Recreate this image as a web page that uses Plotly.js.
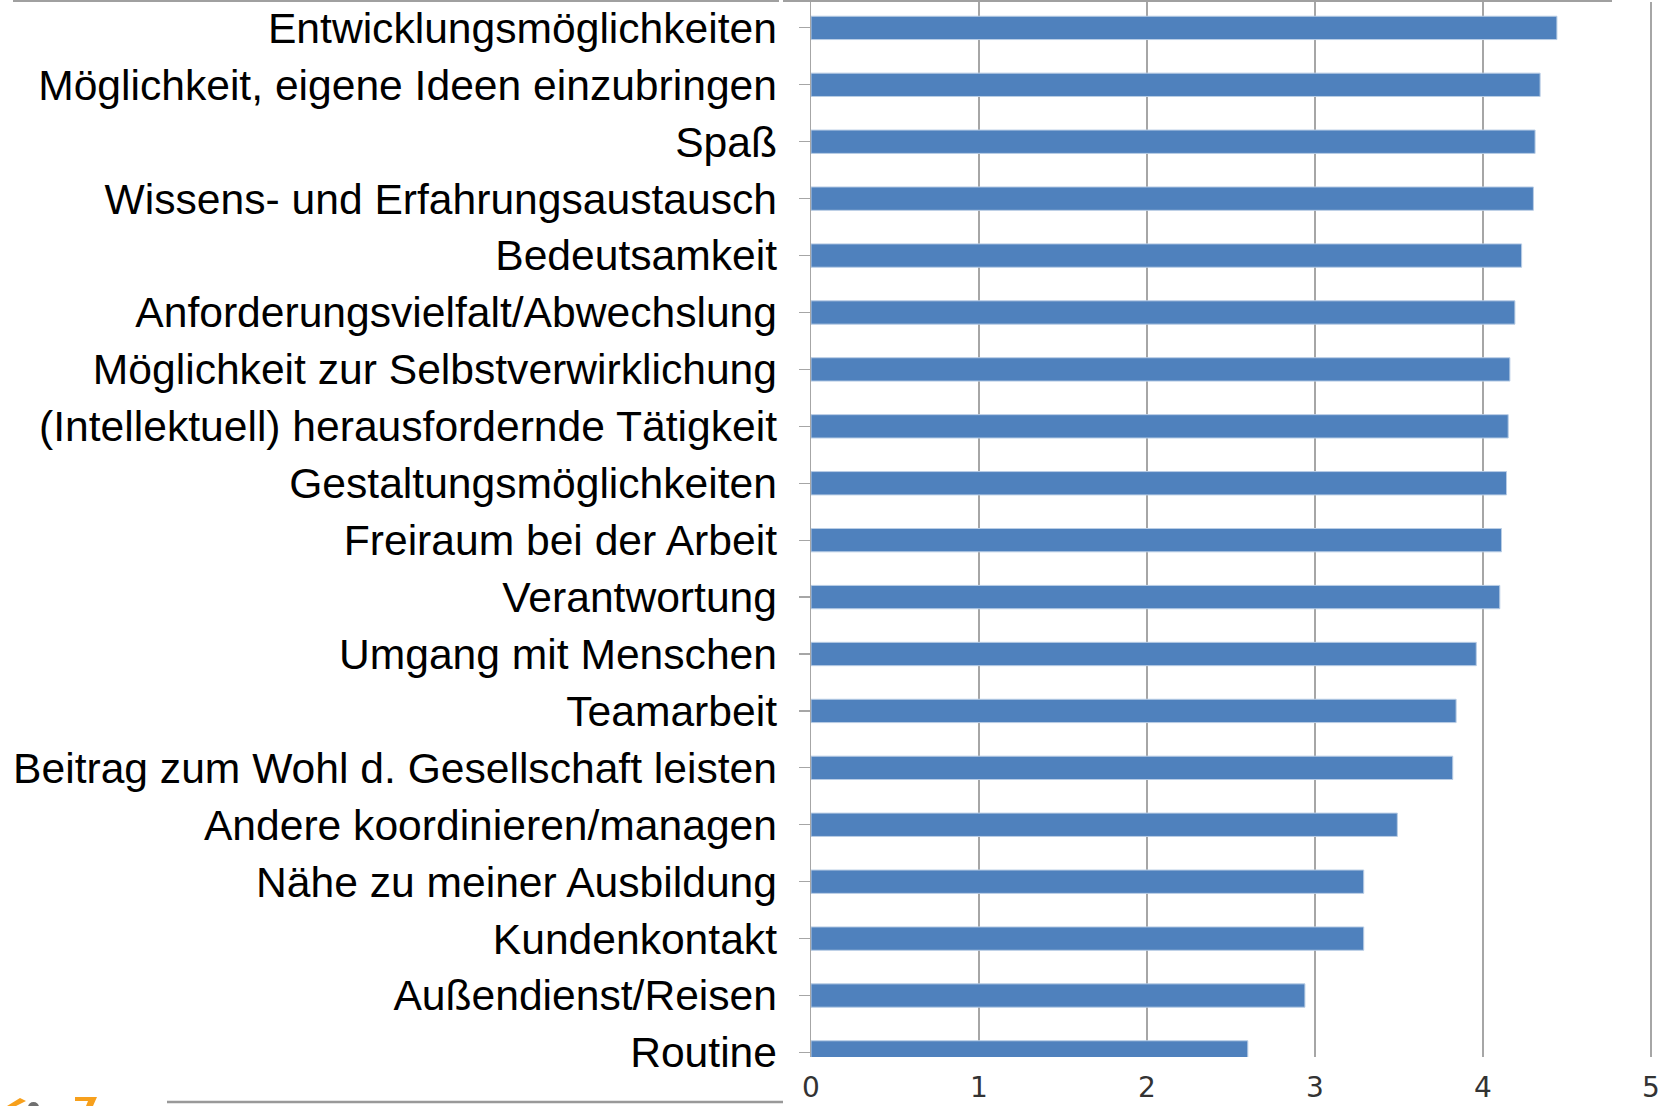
<!DOCTYPE html>
<html>
<head>
<meta charset="utf-8">
<script src="https://cdn.plot.ly/plotly-3.0.1.min.js"></script>
<style>
  html, body { margin: 0; padding: 0; background: #ffffff; }
  #chart { width: 1674px; height: 1106px; }
</style>
</head>
<body>
<div id="chart"></div>
<script>
const categories = [
  "Entwicklungsmöglichkeiten",
  "Möglichkeit, eigene Ideen einzubringen",
  "Spaß",
  "Wissens- und Erfahrungsaustausch",
  "Bedeutsamkeit",
  "Anforderungsvielfalt/Abwechslung",
  "Möglichkeit zur Selbstverwirklichung",
  "(Intellektuell) herausfordernde Tätigkeit",
  "Gestaltungsmöglichkeiten",
  "Freiraum bei der Arbeit",
  "Verantwortung",
  "Umgang mit Menschen",
  "Teamarbeit",
  "Beitrag zum Wohl d. Gesellschaft leisten",
  "Andere koordinieren/managen",
  "Nähe zu meiner Ausbildung",
  "Kundenkontakt",
  "Außendienst/Reisen",
  "Routine"
];
const values = [4.44, 4.34, 4.31, 4.30, 4.23, 4.19, 4.16, 4.15, 4.14, 4.11, 4.10, 3.96, 3.84, 3.82, 3.49, 3.29, 3.29, 2.94, 2.60];
const xTickVals = [0, 1, 2, 3, 4, 5];
const xTickText = ["0", "1", "2", "3", "4", "5"];

// plot area in pixels (for decorative page shapes)
const L = 811, R = 1651, T = 0, B = 1057;
const px = v => (v - L) / (R - L);
const py = v => (B - v) / (B - T);

const trace = {
  type: 'bar',
  orientation: 'h',
  y: categories,
  x: values,
  marker: { color: '#4f81bd', line: { color: '#b9cde5', width: 1 } },
  hoverinfo: 'x+y'
};

const grey = '#a6a6a6';
const layout = {
  width: 1674,
  height: 1106,
  margin: { l: L, r: 1674 - R, t: T, b: 1106 - B, pad: 0 },
  paper_bgcolor: '#ffffff',
  plot_bgcolor: '#ffffff',
  showlegend: false,
  bargap: 0.59,
  xaxis: {
    range: [0, 5],
    tickvals: xTickVals,
    ticktext: xTickText,
    showgrid: true,
    gridcolor: grey,
    gridwidth: 1.4,
    zeroline: false,
    showline: false,
    ticks: '',
    ticklabelstandoff: 11,
    tickfont: { family: 'Verdana, "DejaVu Sans", sans-serif', size: 28, color: '#333333' },
    fixedrange: true
  },
  yaxis: {
    type: 'category',
    range: [18.08, -0.49],
    showgrid: false,
    zeroline: false,
    showline: true,
    linecolor: grey,
    linewidth: 1.5,
    ticks: 'outside',
    ticklen: 11,
    tickwidth: 1.2,
    tickcolor: grey,
    ticklabelstandoff: 13,
    tickfont: { family: 'Arial, "Liberation Sans", sans-serif', size: 42.6, color: '#000000' },
    fixedrange: true
  },
  shapes: [
    // top page border line
    { type: 'line', xref: 'paper', yref: 'paper', x0: px(13), x1: px(779), y0: py(1), y1: py(1), line: { color: '#a0a0a0', width: 2 } },
    { type: 'line', xref: 'paper', yref: 'paper', x0: px(783), x1: px(1612), y0: py(1), y1: py(1), line: { color: '#a0a0a0', width: 2 } },
    // gridline at 5 (plot right edge)
    { type: 'line', xref: 'paper', yref: 'paper', x0: 1, x1: 1, y0: 0, y1: py(2), line: { color: '#a6a6a6', width: 2 } },
    // bottom page line
    { type: 'line', xref: 'paper', yref: 'paper', x0: px(167), x1: px(783), y0: py(1102), y1: py(1102), line: { color: '#999999', width: 2.5 } },
    // partial logo at bottom left
    { type: 'path', xref: 'paper', yref: 'paper',
      path: 'M ' + px(7) + ',' + py(1106) + ' L ' + px(20) + ',' + py(1098) + ' L ' + px(26) + ',' + py(1101) + ' L ' + px(16) + ',' + py(1106) + ' Z',
      fillcolor: '#f7a01c', line: { width: 0 } },
    { type: 'circle', xref: 'paper', yref: 'paper', x0: px(28), x1: px(39), y0: py(1102), y1: py(1112), fillcolor: '#707070', line: { width: 0 } },
    { type: 'path', xref: 'paper', yref: 'paper',
      path: 'M ' + px(75) + ',' + py(1097) + ' L ' + px(97) + ',' + py(1097) + ' L ' + px(93) + ',' + py(1106) + ' L ' + px(86) + ',' + py(1106) + ' L ' + px(88) + ',' + py(1101) + ' L ' + px(75) + ',' + py(1101) + ' Z',
      fillcolor: '#f7a01c', line: { width: 0 } }
  ]
};

Plotly.newPlot('chart', [trace], layout, { displayModeBar: false, staticPlot: true });
</script>
</body>
</html>
